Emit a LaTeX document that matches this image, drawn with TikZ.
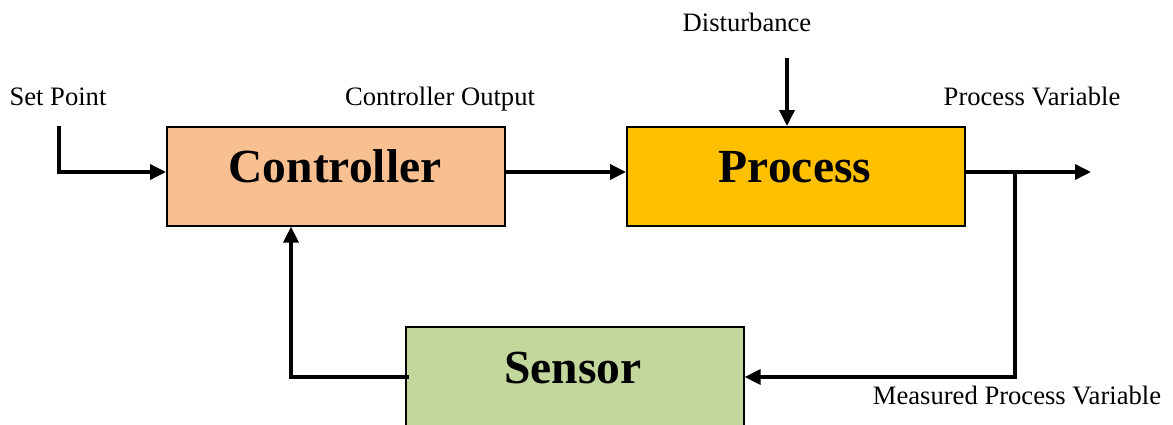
\documentclass[tikz,border=0pt]{standalone}
\usepackage{fontspec}
\setmainfont{Liberation Serif}
\usetikzlibrary{arrows.meta}
\definecolor{ctrlfill}{RGB}{248,192,144}
\definecolor{procfill}{RGB}{255,192,0}
\definecolor{sensfill}{RGB}{195,214,155}
\tikzset{
  blockbox/.style={draw=black, line width=1.6pt, minimum width=338pt, minimum height=99pt, inner sep=0pt},
  blocktext/.style={font=\fontsize{47.5}{50}\selectfont\bfseries, anchor=base},
  sigtext/.style={font=\fontsize{26.6}{30}\selectfont, anchor=base},
  flow/.style={line width=3.5pt, -{Triangle[length=16pt,width=15pt]}}
}
\begin{document}
\begin{tikzpicture}[x=1pt,y=-1pt]
\clip (0,0) rectangle (1173,424);
\useasboundingbox (0,0) rectangle (1173,424);
\fill[white] (0,0) rectangle (1173,424);

% blocks
\node[blockbox, fill=ctrlfill, anchor=north west] (ctrl) at (166,126) {};
\node[blockbox, fill=procfill, anchor=north west] (proc) at (626,126) {};
\node[blockbox, fill=sensfill, anchor=north west, minimum height=130pt] (sens) at (405,326) {};
\node[blocktext] (ctrltxt) at (335,182) {Controller};
\node[blocktext] (proctxt) at (795,182) {Process};
\node[blocktext] (senstxt) at (573,383) {Sensor};

% signal labels
\node[sigtext] (sp) at (58,105) {Set Point};
\node[sigtext] (co) at (440,105) {Controller Output};
\node[sigtext] (dist) at (747,31) {Disturbance};
\node[sigtext] (pv) at (1032,105) {Process Variable};
\node[sigtext] (mpv) at (1017,404) {Measured Process Variable};

% signal row, junction and free ends
\coordinate (row) at (0,172);
\coordinate (spstart) at (59,126);
\coordinate (dstart) at (787,58);
\coordinate (out) at (1091,172);
\coordinate (tap) at (1015,172);
\coordinate (tapdown) at (1015,377);
\coordinate (sensout) at (409,377);
\coordinate (fbcorner) at (291,377);

% connectors
\draw[flow] (spstart) |- (ctrl.west |- row);
\draw[flow] (ctrl.east |- row) -- (proc.west |- row);
\draw[flow] (dstart) -- (dstart |- proc.north);
\draw[flow] (proc.east |- row) -- (out);
\draw[flow] (tap) -- (tapdown) -- (sens.east |- tapdown);
\draw[flow] (sensout) -- (fbcorner) -- (fbcorner |- ctrl.south);
\end{tikzpicture}
\end{document}
